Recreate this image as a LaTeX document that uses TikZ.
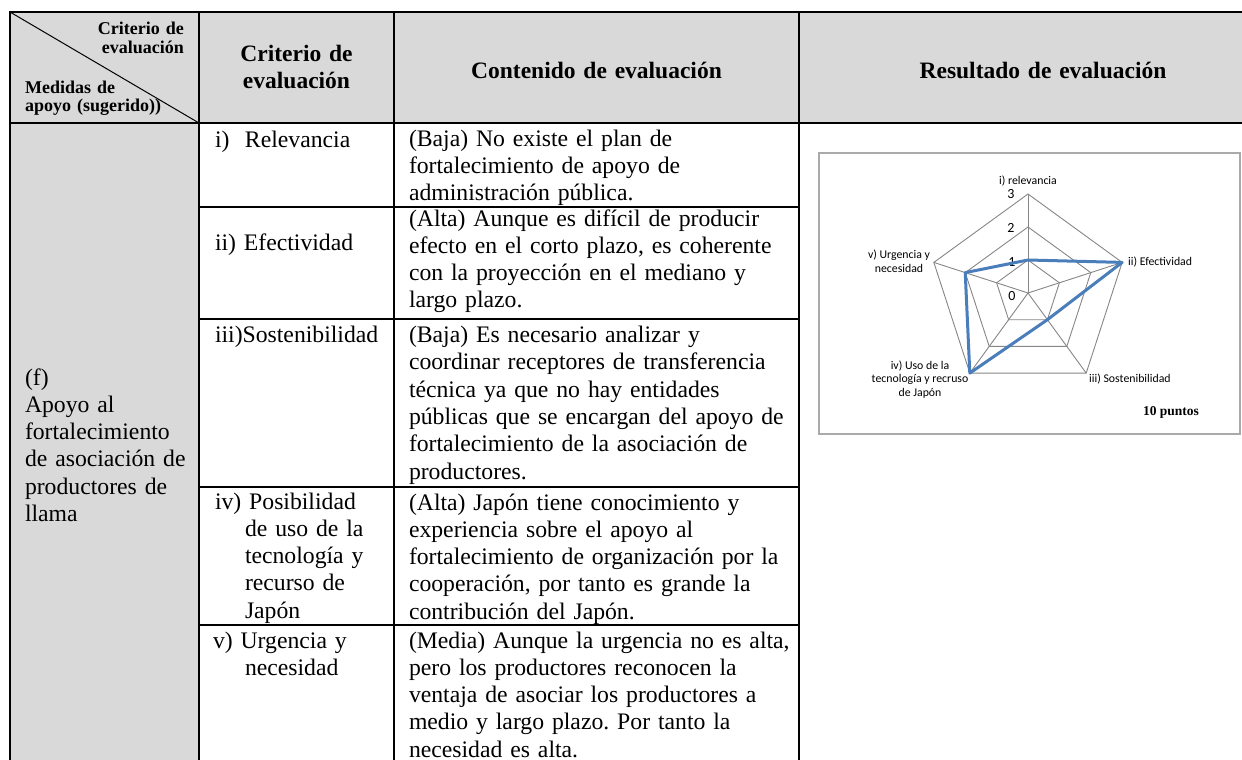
\documentclass[tikz,border=0pt]{standalone}
\usepackage{fontspec}
\setmainfont{Liberation Serif}
\newfontfamily\chartfont{Carlito}
\definecolor{hdrgray}{RGB}{217,217,217}
\definecolor{gridgray}{RGB}{134,134,134}
\definecolor{boxgray}{RGB}{170,170,170}
\definecolor{serieblue}{RGB}{74,126,187}
\frenchspacing
\begin{document}
\begin{tikzpicture}[x=1pt,y=-1pt,
  tblrule/.style={line width=2.4pt, line cap=rect},
  txt/.style={font=\frenchspacing\fontsize{23.7}{27.3}\selectfont, inner sep=0pt, outer sep=0pt, anchor=base west, align=left, text width=520pt},
  hdr/.style={font=\bfseries\fontsize{23.5}{27}\selectfont, inner sep=0pt, anchor=base, align=center, text width=#1},
  corner/.style={font=\bfseries\fontsize{18}{18.8}\selectfont, inner sep=0pt, text width=200pt},
  radargrid/.style={draw=gridgray, line width=0.9pt},
  serie/.style={draw=serieblue, line width=3pt, line join=round},
  lbl/.style={font=\chartfont\fontsize{11.8}{13.5}\selectfont, inner sep=0pt, align=center},
  tick/.style={font=\chartfont\fontsize{14}{15}\selectfont, inner sep=0pt},
]
\useasboundingbox (0,0) rectangle (1242,760);
% fills
\fill[hdrgray] (10,12) rectangle (1242,123);
\fill[hdrgray] (10,123) rectangle (199,760);
% table rules
\draw[tblrule] (10,12) -- (1242,12);
\draw[tblrule] (10,123) -- (1242,123);
\draw[tblrule] (10,12) -- (10,760);
\draw[tblrule] (199,12) -- (199,760);
\draw[tblrule] (394,12) -- (394,760);
\draw[tblrule] (799,12) -- (799,760);
\foreach \yy in {207,319,487,625} \draw[tblrule] (199,\yy) -- (799,\yy);
\draw[line width=1pt] (10,12) -- (199,123);
% corner cell
\node[corner, align=right, anchor=base east] (critTL) at (184,35) {Criterio de\\evaluación};
\node[corner, align=left, anchor=base west] (medTL) at (25,93) {Medidas de\\apoyo (sugerido))};
% header
\node[hdr=190pt] (hCrit) at (296.5,62) {Criterio de\\evaluación};
\node[hdr=400pt] (hCont) at (596.5,78) {Contenido de evaluación};
\node[hdr=440pt] (hRes) at (1043,78) {Resultado de evaluación};
% column 1
\node[txt] (c1) at (25,385) {(f)\\Apoyo al\\fortalecimiento\\de asociación de\\productores de\\llama};
% column 2
\node[txt] (c2i) at (215,147) {\makebox[30pt][l]{i)}Relevancia};
\node[txt] (c2ii) at (215,250) {ii) Efectividad};
\node[txt] (c2iii) at (215,342.5) {iii)Sostenibilidad};
\node[txt] (c2iv) at (215,509) {iv) Posibilidad\\\hspace*{30pt}de uso de la\\\hspace*{30pt}tecnología y\\\hspace*{30pt}recurso de\\\hspace*{30pt}Japón};
\node[txt] (c2v) at (213,648) {v) Urgencia y\\\hspace*{32pt}necesidad};
% column 3
\node[txt] (c3i) at (409,146) {(Baja) No existe el plan de\\fortalecimiento de apoyo de\\administración pública.};
\node[txt] (c3ii) at (409,226) {(Alta) Aunque es difícil de producir\\efecto en el corto plazo, es coherente\\con la proyección en el mediano y\\largo plazo.};
\node[txt] (c3iii) at (409,342.5) {(Baja) Es necesario analizar y\\coordinar receptores de transferencia\\técnica ya que no hay entidades\\públicas que se encargan del apoyo de\\fortalecimiento de la asociación de\\productores.};
\node[txt] (c3iv) at (409,510) {(Alta) Japón tiene conocimiento y\\experiencia sobre el apoyo al\\fortalecimiento de organización por la\\cooperación, por tanto es grande la\\contribución del Japón.};
\node[txt] (c3v) at (409,648) {(Media) Aunque la urgencia no es alta,\\pero los productores reconocen la\\ventaja de asociar los productores a\\medio y largo plazo. Por tanto la\\necesidad es alta.};
% chart
\draw[draw=boxgray, line width=1.2pt] (819,153) rectangle (1240,434);
\begin{scope}[shift={(1028,293)}, y=1pt]
  \foreach \r in {33,66,99}
    \draw[radargrid] (90:\r) -- (18:\r) -- (-54:\r) -- (-126:\r) -- (162:\r) -- cycle;
  \foreach \a in {90,18,-54,-126,162}
    \draw[radargrid] (0,0) -- (\a:99);
  \node[tick] (t3) at (-17,99) {3};
  \node[tick] (t2) at (-17,65) {2};
  \node[tick] (t1) at (-16,31) {1};
  \node[tick] (t0) at (-16,-3) {0};
  \draw[serie] (90:33) -- (18:99) -- (-54:33) -- (-126:99) -- (162:66) -- cycle;
  \node[lbl, anchor=base] (la) at (0,109) {i) relevancia};
  \node[lbl, anchor=west] (lb) at (100,31) {ii) Efectividad};
  \node[lbl, anchor=west] (lc) at (61,-86) {iii) Sostenibilidad};
  \node[lbl] (ld) at (-108,-86.5) {iv) Uso de la\\tecnología y recruso\\de Japón};
  \node[lbl] (le) at (-129,32) {v) Urgencia y\\necesidad};
  \node[font=\bfseries\fontsize{13.5}{15}\selectfont, inner sep=0pt, anchor=base] (pts) at (143,-122) {10 puntos};
\end{scope}
\end{tikzpicture}
\end{document}
